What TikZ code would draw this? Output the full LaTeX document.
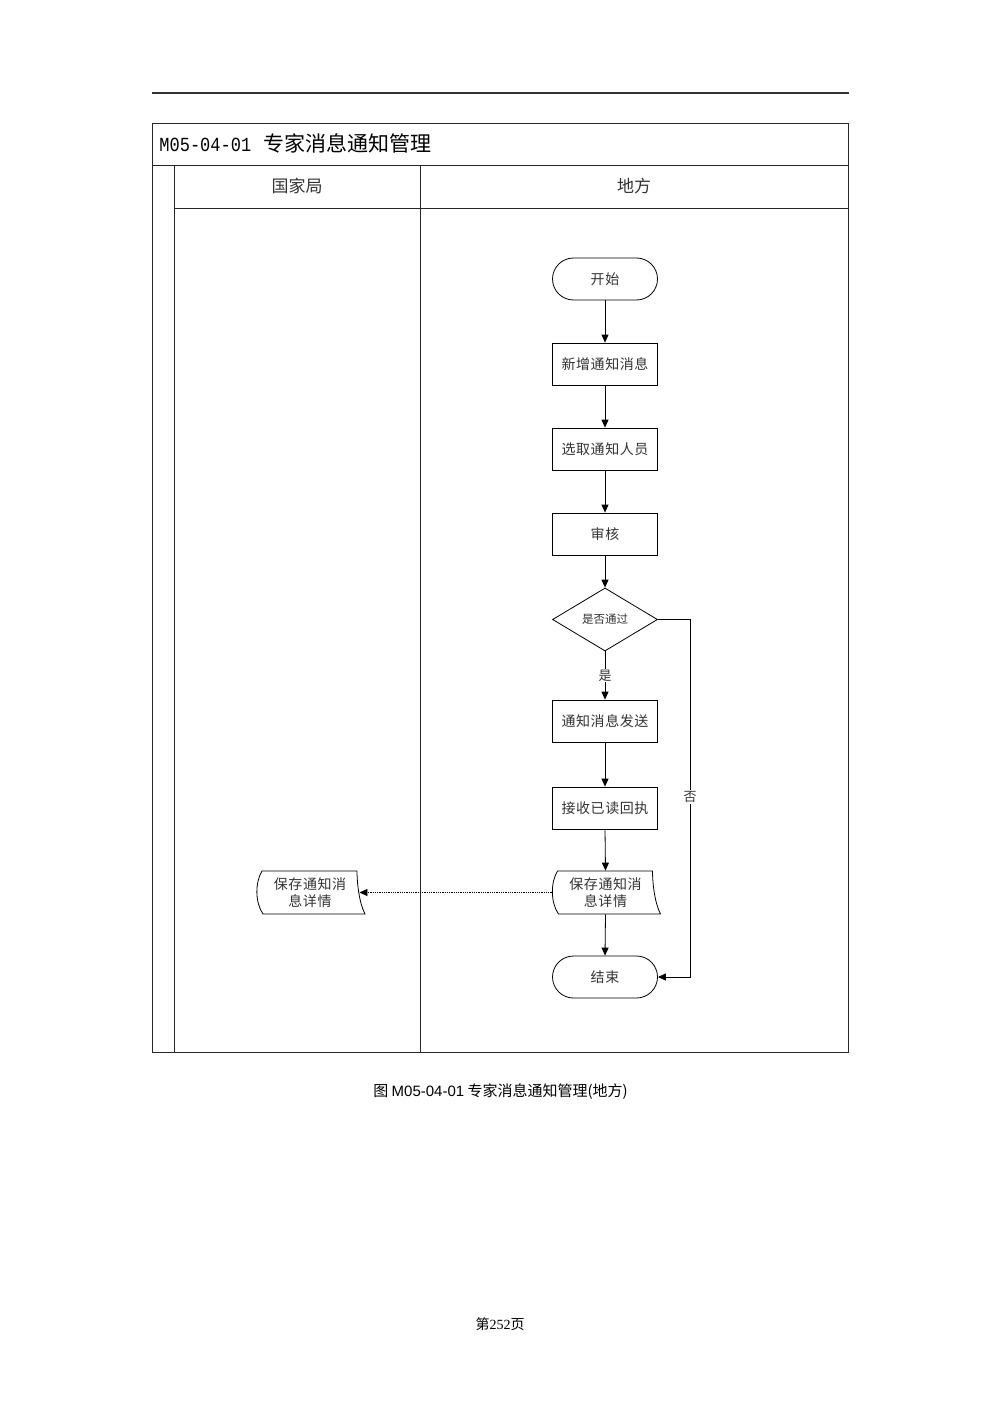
\documentclass[tikz,border=0pt]{standalone}
\usepackage{fontspec}
\setmainfont{Noto Sans CJK SC}
\newfontfamily\cjksp[LetterSpace=4]{Noto Sans CJK SC}
\newfontfamily\monof[FakeStretch=0.85]{Liberation Mono}
\newfontfamily\sansf{Liberation Sans}
\newfontfamily\seriff{Liberation Serif}
\usetikzlibrary{shapes.geometric,arrows.meta}
\newcommand\fsz[2]{\fontsize{#1}{#2}\selectfont}
\newcommand\mydoc[1]{\draw ([shift={(-48,-21.5)}]#1.center) .. controls ([shift={(-55,-10)}]#1.center) and ([shift={(-55,10)}]#1.center) .. ([shift={(-47,21.5)}]#1.center) -- ([shift={(55,21.5)}]#1.center) .. controls ([shift={(49,10)}]#1.center) and ([shift={(47,-10)}]#1.center) .. ([shift={(47,-21.5)}]#1.center) -- cycle;}
\begin{document}
\begin{tikzpicture}[x=1pt,y=-1pt,
  line width=0.8pt,
  frame/.style={draw=black!85, line width=0.9pt},
  proc/.style={draw, minimum width=105pt, minimum height=42pt, inner sep=0pt, font=\cjksp\fsz{14}{17}, text=black!80},
  term/.style={proc, rounded corners=21pt},
  decis/.style={draw, shape=diamond, aspect=1.67, minimum width=105pt, minimum height=63pt, inner sep=0pt, font=\fsz{11.5}{14}, text=black!80},
  docn/.style={minimum width=104pt, minimum height=43pt, inner sep=0pt, align=center, font=\cjksp\fsz{14}{17}, text=black!80},
  arr/.style={-{Triangle[length=8pt,width=7pt]}, line width=0.8pt},
  lbl/.style={fill=white, inner sep=1pt, font=\fsz{13}{15}, text=black!80}
]
\fill[white] (0,0) rectangle (1000,1415);
\useasboundingbox (0,0) rectangle (1000,1415);
% top rule
\draw[black!80, line width=1.6pt] (152,93) -- (849,93);
% frame
\draw[frame] (152,123) rectangle (848,1052);
\draw[frame] (152,165) -- (848,165);
\draw[frame] (174,165) -- (174,1052);
\draw[frame] (174,208) -- (848,208);
\draw[frame] (420,165) -- (420,1052);
% titles
\node[anchor=west, inner sep=0pt] (title) at (159,143) {{\monof\fsz{20}{24}M05-04-01}\hspace{12pt}{\fsz{21}{24}专家消息通知管理}};
\node[font=\fsz{17}{20}, text=black!80] (lane1) at (297,186) {国家局};
\node[font=\fsz{17}{20}, text=black!80] (lane2) at (634,186) {地方};
% nodes
\node[term] (start) at (605,279) {开始};
\node[proc] (add) at (605,364) {新增通知消息};
\node[proc] (sel) at (605,449) {选取通知人员};
\node[proc] (rev) at (605,534) {审核};
\node[decis] (dec) at (605,619.5) {是否通过};
\node[proc] (send) at (605,721) {通知消息发送};
\node[proc] (recv) at (605,808) {接收已读回执};
\node[docn] (save) at (605.5,892.5) {保存通知消\\息详情};
\node[docn] (save2) at (310,892.5) {保存通知消\\息详情};
\node[term] (end) at (605,977) {结束};
\mydoc{save}
\mydoc{save2}
% connectors
\draw[arr] (start.south) -- (add.north);
\draw[arr] (add.south) -- (sel.north);
\draw[arr] (sel.south) -- (rev.north);
\draw[arr] (rev.south) -- (dec.north);
\draw[arr] (dec.south) -- node[lbl] (yes) {是} (send.north);
\draw[arr] (send.south) -- (recv.north);
\draw[arr] (recv.south) -- (save.north);
\draw[arr] (save.south) -- (end.north);
\draw[arr] (dec.east) -- ++(32,0) |- (end.east);
\node[lbl] (no) at (690,797) {否};
\draw[arr, densely dotted] ([xshift=-1pt]save.west) -- ([xshift=-3pt]save2.east);
% caption
\node (cap) at (500.5,1092) {\fsz{15}{18}图 {\sansf M05-04-01} 专家消息通知管理(地方)};
\node (pg) at (500,1324) {\fsz{14}{17}第{\seriff 252}页};
\end{tikzpicture}
\end{document}
